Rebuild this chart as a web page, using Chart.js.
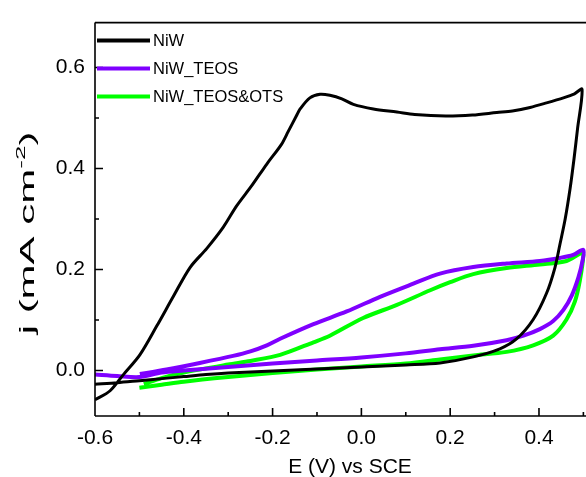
<!DOCTYPE html>
<html>
<head>
<meta charset="utf-8">
<script src="https://cdn.jsdelivr.net/npm/chart.js@4/dist/chart.umd.min.js"></script>
<style>
html,body{margin:0;padding:0;background:#fff;}
#wrap{width:586px;height:477px;position:relative;}
</style>
</head>
<body>
<div id="wrap"><canvas id="c" width="586" height="477"></canvas></div>
<script>
// ---- data ----
const seriesNames = ["NiW", "NiW_TEOS", "NiW_TEOS&OTS"];
const seriesColors = ["#000000", "#7f00ff", "#00ff00"];

const niwE = [-0.6,-0.55,-0.5,-0.45,-0.4,-0.35,-0.3,-0.2,-0.1,0.0,0.1,0.177,0.252,0.312,0.35,0.387,0.417,0.436,0.447,0.459,0.47,0.479,0.487,0.497,
  0.48,0.455,0.417,0.38,0.34,0.305,0.25,0.19,0.12,0.08,0.027,-0.018,-0.044,-0.071,-0.093,-0.116,-0.138,-0.146,-0.165,-0.18,-0.213,-0.247,-0.281,-0.311,-0.348,-0.386,-0.424,-0.461,-0.499,-0.536,-0.566,-0.6];
const niwJ = [-0.027,-0.024,-0.020,-0.016,-0.012,-0.008,-0.005,-0.001,0.003,0.007,0.011,0.015,0.027,0.043,0.063,0.101,0.153,0.204,0.249,0.30,0.36,0.42,0.48,0.557,
  0.548,0.540,0.530,0.521,0.514,0.511,0.506,0.504,0.507,0.512,0.518,0.527,0.538,0.545,0.547,0.540,0.518,0.505,0.473,0.448,0.409,0.366,0.326,0.284,0.242,0.204,0.146,0.088,0.031,-0.008,-0.040,-0.058];

const teosE = [-0.6,-0.55,-0.5,-0.45,-0.4,-0.3,-0.2,-0.1,0.0,0.1,0.177,0.252,0.327,0.365,0.402,0.432,0.455,0.474,0.489,0.498,0.5,
  0.477,0.447,0.402,0.327,0.252,0.177,0.117,0.042,-0.033,-0.108,-0.183,-0.213,-0.25,-0.289,-0.364,-0.439,-0.499];
const teosJ = [-0.008,-0.011,-0.013,-0.004,0.0,0.007,0.014,0.020,0.026,0.034,0.042,0.049,0.060,0.069,0.082,0.098,0.120,0.149,0.185,0.217,0.239,
  0.229,0.223,0.217,0.212,0.205,0.192,0.172,0.146,0.117,0.092,0.063,0.050,0.038,0.029,0.015,0.002,-0.007];

const otsE = [-0.5,-0.45,-0.4,-0.3,-0.2,-0.1,0.0,0.1,0.177,0.252,0.327,0.387,0.432,0.462,0.481,0.492,0.5,
  0.496,0.462,0.402,0.327,0.252,0.2,0.155,0.08,0.004,-0.071,-0.108,-0.183,-0.25,-0.3,-0.4,-0.45,-0.49];
const otsJ = [-0.034,-0.028,-0.022,-0.013,-0.005,0.002,0.008,0.014,0.022,0.030,0.037,0.050,0.069,0.101,0.137,0.178,0.229,
  0.233,0.217,0.210,0.203,0.191,0.175,0.159,0.130,0.104,0.069,0.056,0.031,0.019,0.012,-0.004,-0.015,-0.027];

const xTicks = [-0.6,-0.4,-0.2,0.0,0.2,0.4];
const xMinor = [-0.5,-0.3,-0.1,0.1,0.3,0.5];
const yTicks = [0.0,0.2,0.4,0.6];
const yMinor = [0.1,0.3,0.5];

const xTitle = "E (V) vs SCE";
const yTitleMain = "j (mA cm";
const yTitleSup = "-2";
const yTitleEnd = ")";

// ---- build ----
function pts(E, J){ return E.map((e,i)=>({x:e, y:J[i]})); }
const seriesData = [pts(niwE,niwJ), pts(teosE,teosJ), pts(otsE,otsJ)];
const widths = [3, 4, 4];

const FONT = "'Liberation Sans', Arial, sans-serif";

const framePlugin = {
  id: 'frame',
  afterDraw(chart){
    const ctx = chart.ctx, a = chart.chartArea;
    const xs = chart.scales.x, ys = chart.scales.y;
    ctx.save();
    ctx.strokeStyle = '#000';
    ctx.lineWidth = 1.6;
    ctx.beginPath();
    ctx.moveTo(a.left, a.top); ctx.lineTo(a.right, a.top);
    ctx.moveTo(a.left, a.top); ctx.lineTo(a.left, a.bottom);
    ctx.moveTo(a.left, a.bottom); ctx.lineTo(a.right, a.bottom);
    xTicks.forEach(v=>{ const p = xs.getPixelForValue(v); ctx.moveTo(p, a.bottom); ctx.lineTo(p, a.bottom-8); });
    xMinor.forEach(v=>{ const p = xs.getPixelForValue(v); ctx.moveTo(p, a.bottom); ctx.lineTo(p, a.bottom-4); });
    yTicks.forEach(v=>{ const p = ys.getPixelForValue(v); ctx.moveTo(a.left, p); ctx.lineTo(a.left+8, p); });
    yMinor.forEach(v=>{ const p = ys.getPixelForValue(v); ctx.moveTo(a.left, p); ctx.lineTo(a.left+4, p); });
    ctx.stroke();

    // legend inside the plot
    ctx.font = "16.5px " + FONT;
    ctx.textBaseline = 'middle';
    ctx.textAlign = 'left';
    chart.data.datasets.forEach((ds,i)=>{
      const y = a.top + 18 + i*28;
      ctx.strokeStyle = ds.borderColor;
      ctx.lineWidth = 4;
      ctx.beginPath();
      ctx.moveTo(a.left+2, y); ctx.lineTo(a.left+55, y);
      ctx.stroke();
      ctx.fillStyle = '#000';
      ctx.fillText(ds.label, a.left+58, y+1);
    });

    // x axis title
    ctx.fillStyle = '#000';
    ctx.font = "21px " + FONT;
    ctx.textAlign = 'center';
    ctx.textBaseline = 'middle';
    ctx.fillText(xTitle, 350, 467);

    // y axis title (rotated, stretched along its length as in the reference)
    ctx.save();
    ctx.translate(27, 233);
    ctx.rotate(-Math.PI/2);
    ctx.scale(2.0, 1);
    ctx.font = "21px " + FONT;
    const w1 = ctx.measureText(yTitleMain).width;
    ctx.font = "13px " + FONT;
    const w2 = ctx.measureText(yTitleSup).width;
    ctx.font = "21px " + FONT;
    const w3 = ctx.measureText(yTitleEnd).width;
    const total = w1 + w2 + w3;
    let x0 = -total/2;
    ctx.textAlign = 'left';
    ctx.textBaseline = 'alphabetic';
    const base = 7;
    ctx.fillText(yTitleMain, x0, base); x0 += w1;
    ctx.font = "13px " + FONT;
    ctx.fillText(yTitleSup, x0, base - 9); x0 += w2;
    ctx.font = "21px " + FONT;
    ctx.fillText(yTitleEnd, x0, base);
    ctx.restore();

    ctx.restore();
  }
};

new Chart(document.getElementById('c'), {
  type: 'scatter',
  data: {
    datasets: seriesNames.map((n,i)=>({
      label: n,
      data: seriesData[i],
      showLine: true,
      borderColor: seriesColors[i],
      backgroundColor: seriesColors[i],
      borderWidth: widths[i],
      pointRadius: 0,
      tension: 0.3,
      fill: false
    }))
  },
  options: {
    responsive: false,
    animation: false,
    layout: { padding: { top: 11, right: 0, left: 0, bottom: 0 } },
    plugins: { legend: { display: false }, tooltip: { enabled: false } },
    scales: {
      x: {
        type: 'linear',
        min: -0.6, max: 0.5059,
        grid: { display: false, drawTicks: false },
        border: { display: false },
        afterBuildTicks: s => { s.ticks = xTicks.map(v=>({value:v})); },
        afterFit: s => { s.height = 61; },
        ticks: { padding: 10, color: '#000', font: { family: FONT, size: 21 }, callback: v => Number(v).toFixed(1) },
        title: { display: false, text: xTitle }
      },
      y: {
        type: 'linear',
        min: -0.09, max: 0.689,
        grid: { display: false, drawTicks: false },
        border: { display: false },
        afterBuildTicks: s => { s.ticks = yTicks.map(v=>({value:v})); },
        afterFit: s => { s.width = 95; },
        ticks: { padding: 10, color: '#000', font: { family: FONT, size: 21 }, callback: v => Number(v).toFixed(1) },
        title: { display: false, text: yTitleMain + yTitleSup + yTitleEnd }
      }
    }
  },
  plugins: [framePlugin]
});
</script>
</body>
</html>
